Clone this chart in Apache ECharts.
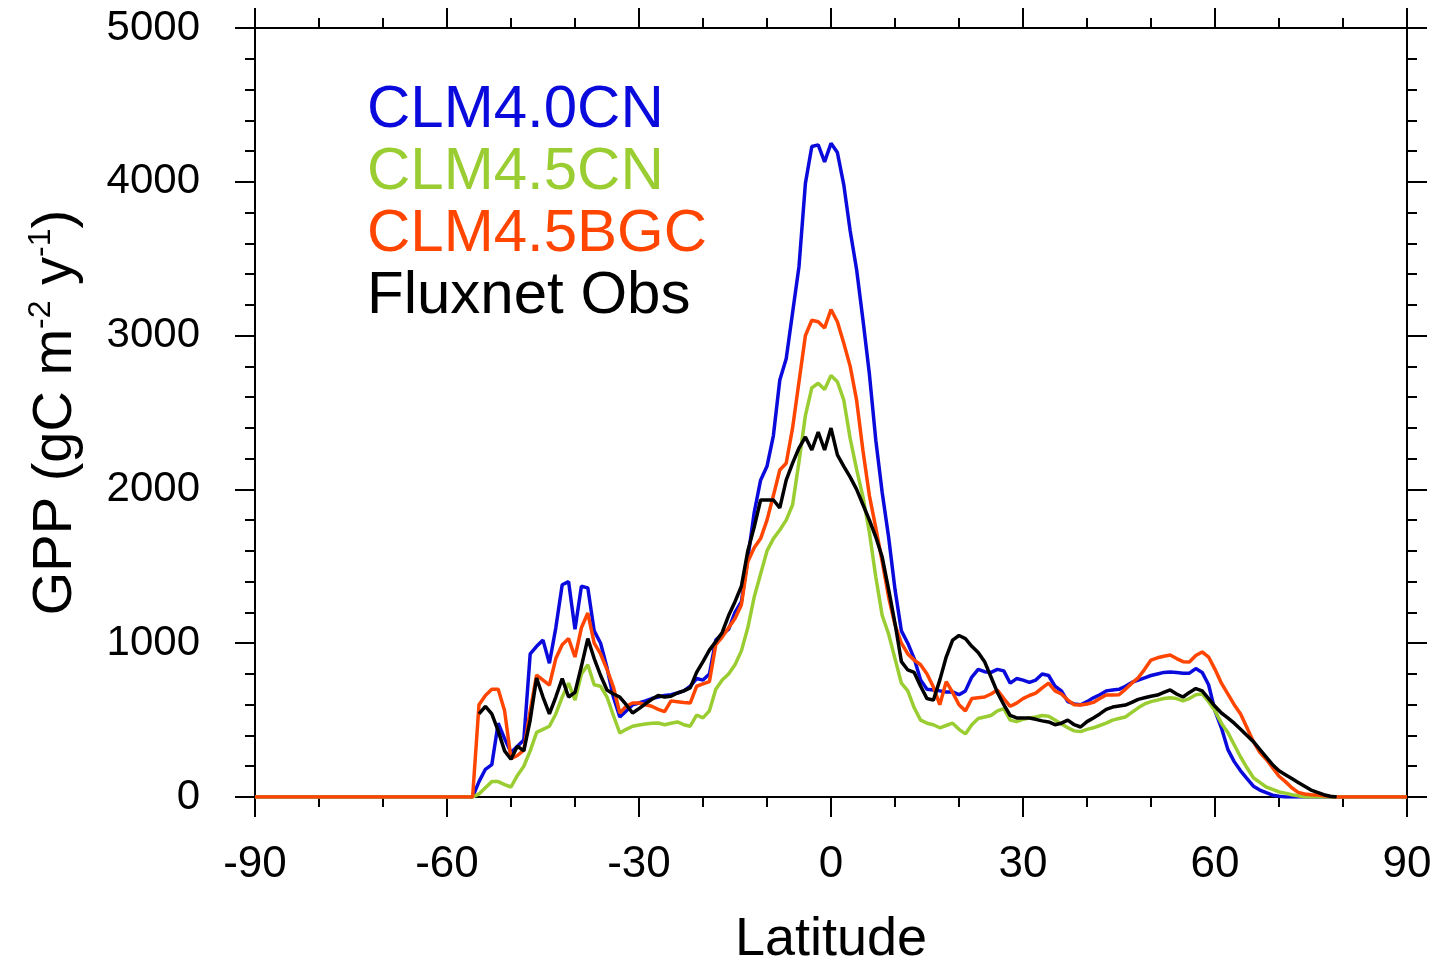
<!DOCTYPE html>
<html>
<head>
<meta charset="utf-8">
<script src="https://cdn.jsdelivr.net/npm/echarts@6/dist/echarts.min.js"></script>
<style>
  html, body { margin: 0; padding: 0; background: #fff; }
  #chart { width: 1435px; height: 965px; }
</style>
</head>
<body>
<div id="chart"></div>
<script>
// latitude grid: -90, then -57 .. 80 every degree, then 90
const lats = [-90,
  -57, -56, -55, -54, -53, -52, -51, -50, -49, -48, -47,
  -46, -45, -44, -43, -42, -41, -40, -39, -38, -37,
  -36, -35, -34, -33, -32, -31, -30, -29, -28, -27,
  -26, -25, -24, -23, -22, -21, -20, -19, -18, -17,
  -16, -15, -14, -13, -12, -11, -10, -9, -8, -7,
  -6, -5, -4, -3, -2, -1, 0, 1, 2, 3,
  4, 5, 6, 7, 8, 9, 10, 11, 12, 13,
  14, 15, 16, 17, 18, 19, 20, 21, 22, 23,
  24, 25, 26, 27, 28, 29, 30, 31, 32, 33,
  34, 35, 36, 37, 38, 39, 40, 41, 42, 43,
  44, 45, 46, 47, 48, 49, 50, 51, 52, 53,
  54, 55, 56, 57, 58, 59, 60, 61, 62, 63,
  64, 65, 66, 67, 68, 69, 70, 71, 72, 73,
  74, 75, 76, 77, 78, 79, 80,
  90];

const clm40cn = [0,
  0, 0, 100, 180, 210, 480, 380, 290, 330, 370, 930,
  980, 1020, 870, 1100, 1380, 1400, 1090, 1370, 1360, 1080,
  1000, 840, 650, 520, 560, 600, 611, 625, 640, 650,
  660, 665, 676, 690, 720, 770, 760, 800, 1020, 1060,
  1090, 1200, 1270, 1550, 1850, 2060, 2150, 2350, 2711, 2850,
  3150, 3450, 3990, 4230, 4240, 4130, 4250, 4190, 3980, 3680,
  3430, 3100, 2750, 2320, 1980, 1690, 1350, 1080, 1000, 900,
  760, 700, 696, 690, 683, 683, 665, 690, 780, 830,
  815, 810, 830, 820, 740, 770, 760, 745, 760, 800,
  790, 720, 690, 620, 605, 600, 620, 645, 665, 690,
  695, 700, 720, 745, 760, 775, 790, 800, 810, 813,
  810, 805, 805, 835, 810, 730, 560, 450, 310, 230,
  170, 120, 70, 45, 28, 12, 5, 0, 0, 0,
  0, 0, 0, 0, 0, 0, 0,
  0];

const clm45cn = [0,
  0, 0, 20, 60, 100, 100, 80, 65, 140, 200, 300,
  420, 440, 460, 540, 650, 740, 630, 800, 860, 730,
  720, 650, 530, 416, 440, 460, 468, 475, 480, 481,
  470, 480, 488, 470, 460, 533, 514, 560, 700, 760,
  800, 860, 950, 1100, 1300, 1450, 1600, 1680, 1736, 1800,
  1900, 2180, 2480, 2660, 2690, 2650, 2740, 2700, 2580, 2330,
  2130, 1950, 1720, 1430, 1180, 1060, 900, 740, 690, 580,
  500, 480, 470, 450, 465, 480, 440, 410, 470, 510,
  520, 530, 560, 575, 500, 490, 505, 514, 520, 530,
  525, 500, 475, 450, 430, 425, 440, 450, 465, 480,
  500, 510, 520, 550, 580, 605, 620, 630, 640, 645,
  640, 625, 640, 665, 670, 620, 560, 480, 420, 340,
  260, 190, 125, 95, 65, 50, 33, 25, 15, 8,
  0, 0, 0, 0, 0, 0, 0,
  0];

const clm45bgc = [0,
  0, 0, 600, 660, 700, 700, 560, 250, 270, 305, 560,
  793, 760, 728, 900, 990, 1030, 910, 1100, 1196, 1000,
  930, 830, 715, 546, 590, 611, 611, 600, 590, 570,
  555, 625, 620, 615, 611, 720, 735, 750, 990, 1040,
  1100, 1160, 1250, 1530, 1620, 1680, 1800, 1960, 2126, 2170,
  2400, 2700, 3000, 3100, 3090, 3050, 3170, 3090, 2950, 2800,
  2580, 2250, 1960, 1750, 1530, 1300, 1120, 1000, 930, 890,
  860, 800, 715, 600, 750, 680, 600, 560, 640, 645,
  650, 670, 696, 640, 590, 610, 640, 660, 675, 710,
  740, 690, 670, 630, 600, 598, 605, 615, 640, 663,
  663, 665, 700, 740, 775, 830, 890, 905, 915, 923,
  900, 880, 878, 920, 943, 910, 830, 740, 670, 600,
  540, 450, 360, 290, 245, 190, 135, 100, 60, 30,
  20, 15, 13, 8, 3, 0, 0,
  0];

const fluxnetObs = [null,
  null, null, 540, 590, 540, 430, 300, 245, 330, 300, 500,
  774, 650, 540, 650, 770, 650, 680, 850, 1030, 900,
  790, 696, 670, 650, 600, 546, 575, 605, 635, 660,
  650, 655, 676, 690, 710, 810, 880, 955, 1010, 1070,
  1180, 1270, 1370, 1600, 1755, 1931, 1931, 1931, 1880, 2061,
  2171, 2269, 2341, 2256, 2373, 2256, 2399, 2224, 2150, 2080,
  2000, 1900, 1800, 1690, 1560, 1350, 1130, 880, 826, 810,
  720, 640, 630, 760, 910, 1020, 1050, 1030, 980, 940,
  880, 780, 680, 600, 530, 514, 514, 514, 505, 495,
  488, 470, 480, 500, 470, 455, 490, 514, 540, 570,
  585, 592, 598, 615, 635, 645, 655, 663, 680, 696,
  670, 650, 680, 705, 690, 640, 590, 546, 515, 480,
  440, 400, 360, 310, 260, 210, 170, 145, 120, 95,
  70, 45, 30, 15, 5, 0, null,
  null];

const seriesNames = ['CLM4.0CN', 'CLM4.5CN', 'CLM4.5BGC', 'Fluxnet Obs'];
const seriesValues = [clm40cn, clm45cn, clm45bgc, fluxnetObs];
const seriesColors = ['#0a0adc', '#9acd32', '#ff4500', '#000000'];

const FONT = "'Liberation Sans', Arial, Helvetica, sans-serif";

const chart = echarts.init(document.getElementById('chart'), null, { renderer: 'canvas' });

const tickCommon = {
  axisLine: { show: true, onZero: false, lineStyle: { color: '#000', width: 2 } },
  axisTick: { show: true, inside: false, length: 20, lineStyle: { color: '#000', width: 2 } },
  minorTick: { show: true, length: 10, lineStyle: { color: '#000', width: 2 } },
  splitLine: { show: false },
  minorSplitLine: { show: false },
};

const option = {
  animation: false,
  backgroundColor: '#fff',
  grid: { left: 255, top: 28, width: 1152, height: 769, containLabel: false, outerBoundsMode: 'none' },
  legend: {
    orient: 'vertical',
    left: 357,
    top: 74,
    icon: 'none',
    itemWidth: 0,
    itemHeight: 10,
    itemGap: 0,
    selectedMode: false,
    textStyle: { fontFamily: FONT, fontSize: 60, lineHeight: 62 },
    data: seriesNames.map((n, i) => ({ name: n, textStyle: { color: seriesColors[i] } })),
  },
  xAxis: [
    {
      type: 'value', min: -90, max: 90, interval: 30, position: 'bottom',
      ...tickCommon,
      minorTick: { ...tickCommon.minorTick, splitNumber: 3 },
      axisLabel: { color: '#000', fontFamily: FONT, fontSize: 44, margin: 46, showMinLabel: true, showMaxLabel: true,
        formatter: (v) => String(v) },
      name: 'Latitude', nameLocation: 'middle', nameGap: 116,
      nameTextStyle: { color: '#000', fontFamily: FONT, fontSize: 54 },
    },
    {
      type: 'value', min: -90, max: 90, interval: 30, position: 'top',
      ...tickCommon,
      minorTick: { ...tickCommon.minorTick, splitNumber: 3 },
      axisLabel: { show: false },
    },
  ],
  yAxis: [
    {
      type: 'value', min: 0, max: 5000, interval: 1000, position: 'left',
      ...tickCommon,
      minorTick: { ...tickCommon.minorTick, splitNumber: 5 },
      axisLabel: { color: '#000', fontFamily: FONT, fontSize: 42, margin: 55, showMinLabel: true, showMaxLabel: true,
        formatter: (v) => String(v) },
      name: '{a|GPP (gC m}{b|-2}{a| y}{b|-1}{a|)}',
      nameLocation: 'middle', nameGap: 168,
      nameTextStyle: {
        color: '#000', fontFamily: FONT, fontSize: 56,
        rich: {
          a: { color: '#000', fontFamily: FONT, fontSize: 56, lineHeight: 62 },
          b: { color: '#000', fontFamily: FONT, fontSize: 32, verticalAlign: 'top' },
        },
      },
    },
    {
      type: 'value', min: 0, max: 5000, interval: 1000, position: 'right',
      ...tickCommon,
      minorTick: { ...tickCommon.minorTick, splitNumber: 5 },
      axisLabel: { show: false },
    },
  ],
  series: seriesNames.map((n, i) => ({
    name: n,
    type: 'line',
    xAxisIndex: 0,
    yAxisIndex: 0,
    showSymbol: false,
    symbol: 'none',
    connectNulls: false,
    color: seriesColors[i],
    lineStyle: { color: seriesColors[i], width: 3.5 },
    z: 2 + i,
    data: lats.map((lat, k) => [lat, seriesValues[i][k]]),
  })),
};

chart.setOption(option);
</script>
</body>
</html>
